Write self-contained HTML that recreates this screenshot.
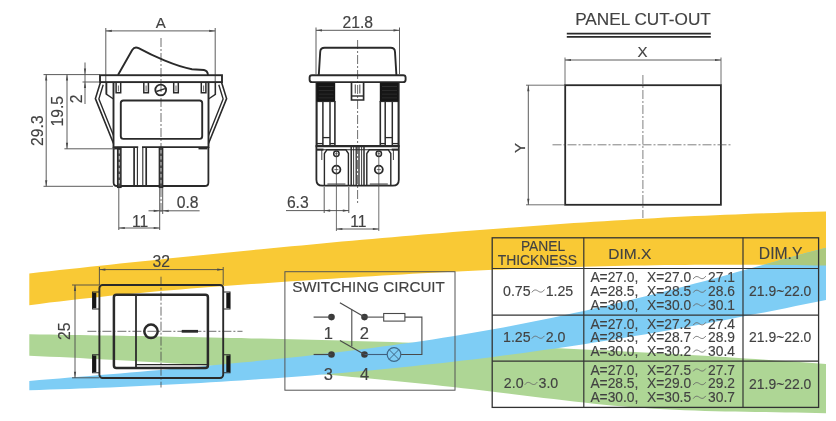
<!DOCTYPE html>
<html><head><meta charset="utf-8"><title>Rocker switch dimensions</title>
<style>
html,body{margin:0;padding:0;background:#fff;}
body{width:836px;height:421px;overflow:hidden;font-family:"Liberation Sans",sans-serif;}
svg{display:block;}
svg text{font-family:"Liberation Sans",sans-serif;}
</style></head><body>
<svg width="836" height="421" viewBox="0 0 836 421">
<defs><filter id="soft" x="0" y="0" width="100%" height="100%" filterUnits="userSpaceOnUse"><feGaussianBlur stdDeviation="0.45"/></filter></defs>
<g filter="url(#soft)">
<rect x="-5" y="-5" width="846" height="431" fill="#fff"/>
<path d="M29.3,273.4 L39.4,272.3 L49.5,271.2 L59.6,270.1 L69.6,269.0 L79.7,267.9 L89.8,266.8 L99.9,265.7 L110.0,264.7 L120.1,263.6 L130.1,262.5 L140.2,261.5 L150.3,260.4 L160.4,259.4 L170.5,258.3 L180.6,257.3 L190.7,256.3 L200.7,255.3 L210.8,254.2 L220.9,253.2 L231.0,252.2 L241.1,251.2 L251.2,250.2 L261.3,249.2 L271.3,248.3 L281.4,247.3 L291.5,246.3 L301.6,245.4 L311.7,244.4 L321.8,243.5 L331.8,242.6 L341.9,241.6 L352.0,240.7 L362.1,239.8 L372.2,238.9 L382.3,238.0 L392.4,237.2 L402.4,236.3 L412.5,235.4 L422.6,234.6 L432.7,233.8 L442.8,232.9 L452.9,232.1 L462.9,231.3 L473.0,230.5 L483.1,229.7 L493.2,228.9 L503.3,228.2 L513.4,227.4 L523.5,226.7 L533.5,225.9 L543.6,225.2 L553.7,224.5 L563.8,223.8 L573.9,223.1 L584.0,222.4 L594.0,221.8 L604.1,221.2 L614.2,220.5 L624.3,219.9 L634.4,219.3 L644.5,218.7 L654.6,218.2 L664.6,217.6 L674.7,217.1 L684.8,216.6 L694.9,216.1 L705.0,215.7 L715.1,215.2 L725.2,214.8 L735.2,214.4 L745.3,214.0 L755.4,213.6 L765.5,213.3 L775.6,212.9 L785.7,212.6 L795.7,212.3 L805.8,212.1 L815.9,211.8 L826.0,211.6 L826.0,265.6 L815.9,265.4 L805.8,265.2 L795.7,265.1 L785.7,265.0 L775.6,264.9 L765.5,264.8 L755.4,264.7 L745.3,264.7 L735.2,264.7 L725.2,264.7 L715.1,264.7 L705.0,264.7 L694.9,264.8 L684.8,264.9 L674.7,265.0 L664.6,265.1 L654.6,265.2 L644.5,265.4 L634.4,265.5 L624.3,265.7 L614.2,265.9 L604.1,266.2 L594.0,266.4 L584.0,266.7 L573.9,267.0 L563.8,267.3 L553.7,267.6 L543.6,267.9 L533.5,268.3 L523.5,268.6 L513.4,269.0 L503.3,269.4 L493.2,269.8 L483.1,270.3 L473.0,270.7 L462.9,271.2 L452.9,271.7 L442.8,272.2 L432.7,272.7 L422.6,273.3 L412.5,273.8 L402.4,274.4 L392.4,275.0 L382.3,275.6 L372.2,276.2 L362.1,276.8 L352.0,277.4 L341.9,278.0 L331.8,278.7 L321.8,279.3 L311.7,280.0 L301.6,280.7 L291.5,281.3 L281.4,282.0 L271.3,282.7 L261.3,283.4 L251.2,284.1 L241.1,284.8 L231.0,285.6 L220.9,286.3 L210.8,287.1 L200.7,287.8 L190.7,288.6 L180.6,289.4 L170.5,290.3 L160.4,291.1 L150.3,292.0 L140.2,292.9 L130.1,293.9 L120.1,294.8 L110.0,295.8 L99.9,296.9 L89.8,298.0 L79.7,299.1 L69.6,300.2 L59.6,301.4 L49.5,302.6 L39.4,303.9 L29.3,305.2 Z" fill="#f9c935"/>
<path d="M29.3,334.3 L39.4,334.5 L49.5,334.6 L59.6,334.8 L69.6,334.9 L79.7,335.1 L89.8,335.3 L99.9,335.4 L110.0,335.6 L120.1,335.8 L130.1,336.0 L140.2,336.1 L150.3,336.3 L160.4,336.5 L170.5,336.7 L180.6,336.9 L190.7,337.1 L200.7,337.3 L210.8,337.5 L220.9,337.7 L231.0,337.9 L241.1,338.1 L251.2,338.4 L261.3,338.6 L271.3,338.8 L281.4,339.1 L291.5,339.3 L301.6,339.5 L311.7,339.8 L321.8,340.1 L331.8,340.3 L341.9,340.6 L352.0,340.9 L362.1,341.2 L372.2,341.4 L382.3,341.7 L392.4,342.0 L402.4,342.4 L412.5,342.7 L422.6,343.0 L432.7,343.3 L442.8,343.7 L452.9,344.0 L462.9,344.4 L473.0,344.8 L483.1,345.1 L493.2,345.5 L503.3,345.9 L513.4,346.3 L523.5,346.7 L533.5,347.1 L543.6,347.6 L553.7,348.0 L563.8,348.4 L573.9,348.9 L584.0,349.4 L594.0,349.9 L604.1,350.3 L614.2,350.8 L624.3,351.4 L634.4,351.9 L644.5,352.4 L654.6,353.0 L664.6,353.5 L674.7,354.1 L684.8,354.7 L694.9,355.2 L705.0,355.8 L715.1,356.5 L725.2,357.1 L735.2,357.7 L745.3,358.4 L755.4,359.0 L765.5,359.7 L775.6,360.4 L785.7,361.1 L795.7,361.8 L805.8,362.6 L815.9,363.3 L826.0,364.1 L826.0,413.2 L815.9,413.0 L805.8,412.7 L795.7,412.5 L785.7,412.4 L775.6,412.2 L765.5,412.1 L755.4,411.9 L745.3,411.8 L735.2,411.6 L725.2,411.4 L715.1,411.2 L705.0,410.9 L694.9,410.6 L684.8,410.2 L674.7,409.8 L664.6,409.3 L654.6,408.8 L644.5,408.1 L634.4,407.4 L624.3,406.6 L614.2,405.7 L604.1,404.7 L594.0,403.7 L584.0,402.6 L573.9,401.5 L563.8,400.3 L553.7,399.1 L543.6,397.9 L533.5,396.7 L523.5,395.4 L513.4,394.2 L503.3,392.9 L493.2,391.7 L483.1,390.5 L473.0,389.3 L462.9,388.2 L452.9,387.0 L442.8,385.9 L432.7,384.8 L422.6,383.8 L412.5,382.7 L402.4,381.7 L392.4,380.7 L382.3,379.7 L372.2,378.7 L362.1,377.8 L352.0,376.9 L341.9,376.0 L331.8,375.1 L321.8,374.2 L311.7,373.3 L301.6,372.5 L291.5,371.7 L281.4,370.9 L271.3,370.1 L261.3,369.4 L251.2,368.6 L241.1,367.9 L231.0,367.2 L220.9,366.5 L210.8,365.8 L200.7,365.1 L190.7,364.5 L180.6,363.8 L170.5,363.2 L160.4,362.6 L150.3,362.0 L140.2,361.4 L130.1,360.8 L120.1,360.3 L110.0,359.7 L99.9,359.2 L89.8,358.7 L79.7,358.1 L69.6,357.6 L59.6,357.1 L49.5,356.7 L39.4,356.2 L29.3,355.7 Z" fill="#aed695"/>
<path d="M29.3,381.0 L39.4,380.1 L49.5,379.3 L59.6,378.4 L69.6,377.6 L79.7,376.7 L89.8,375.9 L99.9,375.1 L110.0,374.2 L120.1,373.4 L130.1,372.5 L140.2,371.7 L150.3,370.8 L160.4,370.0 L170.5,369.1 L180.6,368.2 L190.7,367.3 L200.7,366.4 L210.8,365.5 L220.9,364.6 L231.0,363.6 L241.1,362.6 L251.2,361.7 L261.3,360.6 L271.3,359.6 L281.4,358.6 L291.5,357.5 L301.6,356.4 L311.7,355.3 L321.8,354.1 L331.8,353.0 L341.9,351.7 L352.0,350.5 L362.1,349.2 L372.2,347.9 L382.3,346.6 L392.4,345.2 L402.4,343.8 L412.5,342.4 L422.6,340.9 L432.7,339.4 L442.8,337.8 L452.9,336.2 L462.9,334.5 L473.0,332.8 L483.1,331.1 L493.2,329.3 L503.3,327.4 L513.4,325.5 L523.5,323.6 L533.5,321.6 L543.6,319.5 L553.7,317.4 L563.8,315.3 L573.9,313.1 L584.0,310.9 L594.0,308.6 L604.1,306.3 L614.2,304.0 L624.3,301.6 L634.4,299.1 L644.5,296.6 L654.6,294.1 L664.6,291.6 L674.7,289.0 L684.8,286.3 L694.9,283.6 L705.0,280.9 L715.1,278.2 L725.2,275.4 L735.2,272.6 L745.3,269.8 L755.4,267.0 L765.5,264.2 L775.6,261.4 L785.7,258.6 L795.7,255.9 L805.8,253.1 L815.9,250.4 L826.0,247.8 L826.0,300.0 L815.9,302.0 L805.8,304.1 L795.7,306.1 L785.7,308.2 L775.6,310.2 L765.5,312.2 L755.4,314.1 L745.3,316.1 L735.2,318.0 L725.2,319.9 L715.1,321.8 L705.0,323.7 L694.9,325.6 L684.8,327.4 L674.7,329.2 L664.6,331.0 L654.6,332.7 L644.5,334.4 L634.4,336.1 L624.3,337.8 L614.2,339.4 L604.1,341.1 L594.0,342.6 L584.0,344.2 L573.9,345.7 L563.8,347.2 L553.7,348.7 L543.6,350.1 L533.5,351.5 L523.5,352.9 L513.4,354.3 L503.3,355.6 L493.2,356.9 L483.1,358.2 L473.0,359.4 L462.9,360.6 L452.9,361.8 L442.8,362.9 L432.7,364.0 L422.6,365.1 L412.5,366.2 L402.4,367.2 L392.4,368.2 L382.3,369.2 L372.2,370.2 L362.1,371.1 L352.0,372.0 L341.9,372.9 L331.8,373.8 L321.8,374.6 L311.7,375.4 L301.6,376.2 L291.5,377.0 L281.4,377.7 L271.3,378.4 L261.3,379.1 L251.2,379.8 L241.1,380.5 L231.0,381.1 L220.9,381.7 L210.8,382.3 L200.7,382.9 L190.7,383.5 L180.6,384.0 L170.5,384.5 L160.4,385.1 L150.3,385.5 L140.2,386.0 L130.1,386.5 L120.1,386.9 L110.0,387.4 L99.9,387.8 L89.8,388.2 L79.7,388.6 L69.6,388.9 L59.6,389.3 L49.5,389.6 L39.4,390.0 L29.3,390.3 Z" fill="#7ecdf5"/>
<path d="M763.5,264.8 L765.5,264.2 L775.6,261.4 L785.7,258.6 L795.7,255.9 L805.8,253.1 L815.9,250.4 L826.0,247.8 L826.0,265.6 L815.9,265.4 L805.8,265.2 L795.7,265.1 L785.7,265.0 L775.6,264.9 L765.5,264.8 Z" fill="#abc87e"/>
<line x1="161" y1="38" x2="161" y2="213" stroke="#4a4a4a" stroke-width="0.8" stroke-dasharray="9 2 2 2"/>
<line x1="105.8" y1="30.9" x2="215.2" y2="30.9" stroke="#4a4a4a" stroke-width="0.9" />
<path d="M105.80,30.90 L111.80,29.80 L111.80,32.00 Z" fill="#4a4a4a" stroke="none"/>
<path d="M215.20,30.90 L209.20,32.00 L209.20,29.80 Z" fill="#4a4a4a" stroke="none"/>
<line x1="105.8" y1="28" x2="105.8" y2="94.5" stroke="#4a4a4a" stroke-width="0.9" />
<line x1="215.2" y1="28" x2="215.2" y2="94.5" stroke="#4a4a4a" stroke-width="0.9" />
<path d="M106.6,82.5 L106.6,94.4 L113.5,99" stroke="#2b2b2b" stroke-width="1.4" fill="none" />
<path d="M215.4,82.5 L215.4,94.4 L208.5,99" stroke="#2b2b2b" stroke-width="1.4" fill="none" />
<text x="160.8" y="28.3" font-size="15" text-anchor="middle" fill="#424242" stroke="#424242" stroke-width="0.16">A</text>
<path d="M118,75 L132.2,50 Q134.6,46.2 138.6,48.2 C152,55.5 176,66.5 192,69.2 L204,70 Q207.5,70.6 208,75" stroke="#2b2b2b" stroke-width="1.9" fill="none" />
<rect x="100" y="75.2" width="122" height="6.9" rx="0" stroke="#2b2b2b" stroke-width="1.9" fill="none" />
<path d="M113.5,82.2 L113.5,147.1 L208.5,147.1 L208.5,82.2" stroke="#2b2b2b" stroke-width="1.9" fill="none" />
<rect x="120.8" y="100.5" width="81.4" height="38.4" rx="2.6" stroke="#2b2b2b" stroke-width="1.9" fill="none" />
<path d="M116.10000000000001,82.2 L116.10000000000001,92.7 L120.7,92.7 L120.7,82.2" stroke="#2b2b2b" stroke-width="1.5" fill="none" />
<line x1="118.4" y1="85.5" x2="118.4" y2="91.4" stroke="#555" stroke-width="0.9" />
<path d="M143.8,82.2 L143.8,92.7 L148.4,92.7 L148.4,82.2" stroke="#2b2b2b" stroke-width="1.5" fill="none" />
<line x1="146.1" y1="85.5" x2="146.1" y2="91.4" stroke="#555" stroke-width="0.9" />
<path d="M173.70000000000002,82.2 L173.70000000000002,92.7 L178.3,92.7 L178.3,82.2" stroke="#2b2b2b" stroke-width="1.5" fill="none" />
<line x1="176.0" y1="85.5" x2="176.0" y2="91.4" stroke="#555" stroke-width="0.9" />
<path d="M201.3,82.2 L201.3,92.7 L205.9,92.7 L205.9,82.2" stroke="#2b2b2b" stroke-width="1.5" fill="none" />
<line x1="203.6" y1="85.5" x2="203.6" y2="91.4" stroke="#555" stroke-width="0.9" />
<circle cx="160.7" cy="90" r="5.4" stroke="#2b2b2b" stroke-width="1.8" fill="none"/>
<line x1="156.3" y1="91.5" x2="165.0" y2="88.6" stroke="#2b2b2b" stroke-width="1.5" />
<path d="M100.4,82.4 L95.4,98.6 L113.5,143.5" stroke="#2b2b2b" stroke-width="1.6" fill="none" />
<path d="M103.2,84.8 L98.9,98.9 L113.5,135.5" stroke="#2b2b2b" stroke-width="1.4" fill="none" />
<path d="M221.6,82.4 L226.6,98.6 L208.5,143.5" stroke="#2b2b2b" stroke-width="1.6" fill="none" />
<path d="M218.8,84.8 L223.1,98.9 L208.5,135.5" stroke="#2b2b2b" stroke-width="1.4" fill="none" />
<path d="M113.6,147.1 L113.6,182.4 Q113.6,186 117.2,186 L204.8,186 Q208.4,186 208.4,182.4 L208.4,147.1" stroke="#2b2b2b" stroke-width="1.8" fill="none" />
<line x1="134.1" y1="147.1" x2="134.1" y2="186" stroke="#2b2b2b" stroke-width="1.7" />
<line x1="137.4" y1="147.1" x2="137.4" y2="186" stroke="#2b2b2b" stroke-width="1.1" />
<line x1="142.8" y1="147.1" x2="142.8" y2="186" stroke="#2b2b2b" stroke-width="1.1" />
<line x1="146.2" y1="147.1" x2="146.2" y2="186" stroke="#2b2b2b" stroke-width="1.7" />
<line x1="138.2" y1="147.1" x2="142.0" y2="147.1" stroke="#fff" stroke-width="2.6" />
<rect x="117.6" y="147.5" width="3.4" height="39.9" rx="0" stroke="#2b2b2b" stroke-width="1.3" fill="#4a4a4a" />
<line x1="119.3" y1="150" x2="119.3" y2="186" stroke="#c8c8c8" stroke-width="1.0" stroke-dasharray="3.5 2.5"/>
<line x1="117.6" y1="187.2" x2="121.0" y2="187.2" stroke="#2b2b2b" stroke-width="1" />
<rect x="159.3" y="147.5" width="3.4" height="39.9" rx="0" stroke="#2b2b2b" stroke-width="1.3" fill="#4a4a4a" />
<line x1="161.0" y1="150" x2="161.0" y2="186" stroke="#c8c8c8" stroke-width="1.0" stroke-dasharray="3.5 2.5"/>
<line x1="159.3" y1="187.2" x2="162.70000000000002" y2="187.2" stroke="#2b2b2b" stroke-width="1" />
<line x1="114" y1="148.2" x2="121" y2="148.2" stroke="#2b2b2b" stroke-width="2.4" />
<line x1="198.5" y1="148.2" x2="207.5" y2="148.2" stroke="#2b2b2b" stroke-width="2.4" />
<line x1="43.5" y1="74.6" x2="100" y2="74.6" stroke="#4a4a4a" stroke-width="0.9" />
<line x1="82.5" y1="82" x2="100" y2="82" stroke="#4a4a4a" stroke-width="0.9" />
<line x1="64.4" y1="148.8" x2="115" y2="148.8" stroke="#4a4a4a" stroke-width="0.9" />
<line x1="43.5" y1="186.3" x2="113" y2="186.3" stroke="#4a4a4a" stroke-width="0.9" />
<line x1="46.2" y1="74.6" x2="46.2" y2="186.3" stroke="#4a4a4a" stroke-width="0.9" />
<path d="M46.20,74.60 L47.30,80.60 L45.10,80.60 Z" fill="#4a4a4a" stroke="none"/>
<path d="M46.20,186.30 L45.10,180.30 L47.30,180.30 Z" fill="#4a4a4a" stroke="none"/>
<line x1="67" y1="74.6" x2="67" y2="148.8" stroke="#4a4a4a" stroke-width="0.9" />
<path d="M67.00,74.60 L68.10,80.60 L65.90,80.60 Z" fill="#4a4a4a" stroke="none"/>
<path d="M67.00,148.80 L65.90,142.80 L68.10,142.80 Z" fill="#4a4a4a" stroke="none"/>
<line x1="85" y1="62.5" x2="85" y2="104" stroke="#4a4a4a" stroke-width="0.9" />
<path d="M85.00,74.60 L83.90,68.60 L86.10,68.60 Z" fill="#4a4a4a" stroke="none"/>
<path d="M85.00,82.00 L86.10,88.00 L83.90,88.00 Z" fill="#4a4a4a" stroke="none"/>
<text x="43.4" y="130.6" font-size="15.7" text-anchor="middle" fill="#424242" transform="rotate(-90 43.4 130.6)" stroke="#424242" stroke-width="0.16">29.3</text>
<text x="63.3" y="111.2" font-size="15.7" text-anchor="middle" fill="#424242" transform="rotate(-90 63.3 111.2)" stroke="#424242" stroke-width="0.16">19.5</text>
<text x="82.3" y="98.8" font-size="15.7" text-anchor="middle" fill="#424242" transform="rotate(-90 82.3 98.8)" stroke="#424242" stroke-width="0.16">2</text>
<line x1="118.8" y1="188" x2="118.8" y2="230" stroke="#4a4a4a" stroke-width="0.9" />
<line x1="159.7" y1="188" x2="159.7" y2="230" stroke="#4a4a4a" stroke-width="0.9" />
<line x1="162.7" y1="188" x2="162.7" y2="214" stroke="#4a4a4a" stroke-width="0.9" />
<line x1="118.8" y1="228" x2="159.7" y2="228" stroke="#4a4a4a" stroke-width="0.9" />
<path d="M118.80,228.00 L124.80,226.90 L124.80,229.10 Z" fill="#4a4a4a" stroke="none"/>
<path d="M159.70,228.00 L153.70,229.10 L153.70,226.90 Z" fill="#4a4a4a" stroke="none"/>
<line x1="148.5" y1="210.8" x2="199.6" y2="210.8" stroke="#4a4a4a" stroke-width="0.9" />
<path d="M159.70,210.80 L153.70,211.90 L153.70,209.70 Z" fill="#4a4a4a" stroke="none"/>
<path d="M162.70,210.80 L168.70,209.70 L168.70,211.90 Z" fill="#4a4a4a" stroke="none"/>
<text x="187.7" y="208.2" font-size="15.7" text-anchor="middle" fill="#424242" stroke="#424242" stroke-width="0.16">0.8</text>
<text x="140.2" y="227" font-size="15.7" text-anchor="middle" fill="#424242" stroke="#424242" stroke-width="0.16">11</text>
<line x1="357.6" y1="40" x2="357.6" y2="203" stroke="#4a4a4a" stroke-width="0.8" stroke-dasharray="9 2 2 2"/>
<line x1="316" y1="30.3" x2="399.5" y2="30.3" stroke="#4a4a4a" stroke-width="0.9" />
<path d="M316.00,30.30 L322.00,29.20 L322.00,31.40 Z" fill="#4a4a4a" stroke="none"/>
<path d="M399.50,30.30 L393.50,31.40 L393.50,29.20 Z" fill="#4a4a4a" stroke="none"/>
<line x1="316" y1="27.5" x2="316" y2="74" stroke="#4a4a4a" stroke-width="0.9" />
<line x1="399.5" y1="27.5" x2="399.5" y2="74" stroke="#4a4a4a" stroke-width="0.9" />
<text x="357.8" y="28" font-size="15.7" text-anchor="middle" fill="#424242" stroke="#424242" stroke-width="0.16">21.8</text>
<path d="M318.8,75 L320.2,52 Q320.4,47.8 324.6,47.8 L390.6,47.8 Q394.8,47.8 395,52 L396.4,75" stroke="#2b2b2b" stroke-width="1.9" fill="none" />
<rect x="309.6" y="75.2" width="96" height="6.9" rx="2.4" stroke="#2b2b2b" stroke-width="1.9" fill="none" />
<line x1="316.6" y1="82.2" x2="316.6" y2="146" stroke="#2b2b2b" stroke-width="2.1" />
<line x1="398.6" y1="82.2" x2="398.6" y2="146" stroke="#2b2b2b" stroke-width="2.1" />
<rect x="316.6" y="82.4" width="18.4" height="19.5" rx="0" stroke="#2b2b2b" stroke-width="0.4" fill="#141414" />
<line x1="318.6" y1="86.5" x2="333.6" y2="86.5" stroke="#4a4a4a" stroke-width="0.5" />
<line x1="318.6" y1="90.3" x2="333.6" y2="90.3" stroke="#4a4a4a" stroke-width="0.5" />
<line x1="318.6" y1="94.1" x2="333.6" y2="94.1" stroke="#4a4a4a" stroke-width="0.5" />
<line x1="318.6" y1="97.9" x2="333.6" y2="97.9" stroke="#4a4a4a" stroke-width="0.5" />
<line x1="322.90000000000003" y1="101" x2="322.90000000000003" y2="145" stroke="#2b2b2b" stroke-width="1.5" />
<line x1="330.0" y1="101" x2="330.0" y2="145" stroke="#2b2b2b" stroke-width="1.5" />
<line x1="334.90000000000003" y1="101" x2="334.90000000000003" y2="145" stroke="#2b2b2b" stroke-width="1.6" />
<line x1="316.6" y1="143.6" x2="322.90000000000003" y2="143.6" stroke="#2b2b2b" stroke-width="1.3" />
<line x1="330.0" y1="143.6" x2="334.90000000000003" y2="143.6" stroke="#2b2b2b" stroke-width="1.3" />
<line x1="322.90000000000003" y1="137.6" x2="330.0" y2="137.6" stroke="#2b2b2b" stroke-width="1.3" />
<rect x="380.0" y="82.4" width="18.4" height="19.5" rx="0" stroke="#2b2b2b" stroke-width="0.4" fill="#141414" />
<line x1="382.0" y1="86.5" x2="397.0" y2="86.5" stroke="#4a4a4a" stroke-width="0.5" />
<line x1="382.0" y1="90.3" x2="397.0" y2="90.3" stroke="#4a4a4a" stroke-width="0.5" />
<line x1="382.0" y1="94.1" x2="397.0" y2="94.1" stroke="#4a4a4a" stroke-width="0.5" />
<line x1="382.0" y1="97.9" x2="397.0" y2="97.9" stroke="#4a4a4a" stroke-width="0.5" />
<line x1="392.3" y1="101" x2="392.3" y2="145" stroke="#2b2b2b" stroke-width="1.5" />
<line x1="385.20000000000005" y1="101" x2="385.20000000000005" y2="145" stroke="#2b2b2b" stroke-width="1.5" />
<line x1="380.3" y1="101" x2="380.3" y2="145" stroke="#2b2b2b" stroke-width="1.6" />
<line x1="398.6" y1="143.6" x2="392.3" y2="143.6" stroke="#2b2b2b" stroke-width="1.3" />
<line x1="385.20000000000005" y1="143.6" x2="380.3" y2="143.6" stroke="#2b2b2b" stroke-width="1.3" />
<line x1="392.3" y1="137.6" x2="385.20000000000005" y2="137.6" stroke="#2b2b2b" stroke-width="1.3" />
<path d="M351.5,82.2 L351.5,100 L363.6,100 L363.6,82.2" stroke="#2b2b2b" stroke-width="1.7" fill="none" />
<line x1="351.5" y1="96" x2="363.6" y2="96" stroke="#2b2b2b" stroke-width="1.4" />
<line x1="355.3" y1="84.5" x2="355.3" y2="93.5" stroke="#666" stroke-width="1.2" />
<line x1="359.8" y1="84.5" x2="359.8" y2="93.5" stroke="#666" stroke-width="1.2" />
<line x1="315.6" y1="146.1" x2="399.6" y2="146.1" stroke="#2b2b2b" stroke-width="2.2" />
<line x1="317" y1="149.8" x2="398.2" y2="149.8" stroke="#2b2b2b" stroke-width="1.1" />
<line x1="317" y1="149.6" x2="323.5" y2="149.6" stroke="#2b2b2b" stroke-width="2.0" />
<line x1="391.7" y1="149.6" x2="398.2" y2="149.6" stroke="#2b2b2b" stroke-width="2.0" />
<path d="M316.4,146 L316.4,179.7 Q316.4,185.7 322.4,185.7 L392.8,185.7 Q398.8,185.7 398.8,179.7 L398.8,146" stroke="#2b2b2b" stroke-width="1.8" fill="none" />
<path d="M324.4,185.7 L324.4,153.5 L326.9,149.8 L345.9,149.8 L348.4,153.5 L348.4,185.7" stroke="#2b2b2b" stroke-width="1.4" fill="none" />
<circle cx="336.4" cy="153.7" r="2.7" stroke="#2b2b2b" stroke-width="1.5" fill="none"/>
<circle cx="336.4" cy="169.6" r="4.0" stroke="#2b2b2b" stroke-width="1.8" fill="none"/>
<line x1="335.09999999999997" y1="153.7" x2="337.7" y2="153.7" stroke="#2b2b2b" stroke-width="0.7" />
<line x1="334.4" y1="169.6" x2="338.4" y2="169.6" stroke="#2b2b2b" stroke-width="0.7" />
<line x1="327.4" y1="184.2" x2="345.4" y2="184.2" stroke="#777" stroke-width="1.8" />
<line x1="321.79999999999995" y1="150" x2="321.79999999999995" y2="160" stroke="#2b2b2b" stroke-width="0.9" />
<path d="M366.8,185.7 L366.8,153.5 L369.3,149.8 L388.3,149.8 L390.8,153.5 L390.8,185.7" stroke="#2b2b2b" stroke-width="1.4" fill="none" />
<circle cx="378.8" cy="153.7" r="2.7" stroke="#2b2b2b" stroke-width="1.5" fill="none"/>
<circle cx="378.8" cy="169.6" r="4.0" stroke="#2b2b2b" stroke-width="1.8" fill="none"/>
<line x1="377.5" y1="153.7" x2="380.1" y2="153.7" stroke="#2b2b2b" stroke-width="0.7" />
<line x1="376.8" y1="169.6" x2="380.8" y2="169.6" stroke="#2b2b2b" stroke-width="0.7" />
<line x1="369.8" y1="184.2" x2="387.8" y2="184.2" stroke="#777" stroke-width="1.8" />
<line x1="393.40000000000003" y1="150" x2="393.40000000000003" y2="160" stroke="#2b2b2b" stroke-width="0.9" />
<line x1="351.2" y1="147" x2="351.2" y2="185.7" stroke="#2b2b2b" stroke-width="1.5" />
<line x1="353.6" y1="147" x2="353.6" y2="185.7" stroke="#2b2b2b" stroke-width="0.9" />
<line x1="356.2" y1="147" x2="356.2" y2="185.7" stroke="#2b2b2b" stroke-width="1.3" />
<line x1="359.0" y1="147" x2="359.0" y2="185.7" stroke="#2b2b2b" stroke-width="1.3" />
<line x1="361.6" y1="147" x2="361.6" y2="185.7" stroke="#2b2b2b" stroke-width="0.9" />
<line x1="364" y1="147" x2="364" y2="185.7" stroke="#2b2b2b" stroke-width="1.5" />
<line x1="324.2" y1="187" x2="324.2" y2="213" stroke="#4a4a4a" stroke-width="0.9" />
<line x1="348.8" y1="187" x2="348.8" y2="213" stroke="#4a4a4a" stroke-width="0.9" />
<line x1="286" y1="210.6" x2="348.8" y2="210.6" stroke="#4a4a4a" stroke-width="0.9" />
<path d="M324.20,210.60 L330.20,209.50 L330.20,211.70 Z" fill="#4a4a4a" stroke="none"/>
<path d="M348.80,210.60 L342.80,211.70 L342.80,209.50 Z" fill="#4a4a4a" stroke="none"/>
<text x="297.8" y="207.7" font-size="15.7" text-anchor="middle" fill="#424242" stroke="#424242" stroke-width="0.16">6.3</text>
<line x1="336.4" y1="150" x2="336.4" y2="231" stroke="#4a4a4a" stroke-width="0.8" />
<line x1="378.8" y1="150" x2="378.8" y2="231" stroke="#4a4a4a" stroke-width="0.8" />
<line x1="336.4" y1="229" x2="378.8" y2="229" stroke="#4a4a4a" stroke-width="0.9" />
<path d="M336.40,229.00 L342.40,227.90 L342.40,230.10 Z" fill="#4a4a4a" stroke="none"/>
<path d="M378.80,229.00 L372.80,230.10 L372.80,227.90 Z" fill="#4a4a4a" stroke="none"/>
<text x="358.3" y="226.6" font-size="15.7" text-anchor="middle" fill="#424242" stroke="#424242" stroke-width="0.16">11</text>
<text x="643" y="25.0" font-size="17.2" text-anchor="middle" fill="#424242" stroke="#424242" stroke-width="0.16">PANEL CUT-OUT</text>
<line x1="566.8" y1="33.6" x2="710.8" y2="33.6" stroke="#2b2b2b" stroke-width="1.6" />
<line x1="566.8" y1="36.9" x2="710.8" y2="36.9" stroke="#2b2b2b" stroke-width="1.6" />
<text x="642.6" y="57" font-size="15" text-anchor="middle" fill="#424242" stroke="#424242" stroke-width="0.16">X</text>
<line x1="565" y1="60" x2="721" y2="60" stroke="#4a4a4a" stroke-width="0.9" />
<path d="M565.00,60.00 L571.00,58.90 L571.00,61.10 Z" fill="#4a4a4a" stroke="none"/>
<path d="M721.00,60.00 L715.00,61.10 L715.00,58.90 Z" fill="#4a4a4a" stroke="none"/>
<line x1="565" y1="57.5" x2="565" y2="85" stroke="#4a4a4a" stroke-width="0.8" />
<line x1="721" y1="57.5" x2="721" y2="85" stroke="#4a4a4a" stroke-width="0.8" />
<rect x="565.2" y="85.2" width="155.7" height="119.6" rx="0" stroke="#2b2b2b" stroke-width="1.8" fill="none" />
<line x1="526" y1="85.2" x2="565" y2="85.2" stroke="#4a4a4a" stroke-width="0.8" />
<line x1="526" y1="204.8" x2="565" y2="204.8" stroke="#4a4a4a" stroke-width="0.8" />
<line x1="528.3" y1="85.2" x2="528.3" y2="204.8" stroke="#4a4a4a" stroke-width="0.9" />
<path d="M528.30,85.20 L529.40,91.20 L527.20,91.20 Z" fill="#4a4a4a" stroke="none"/>
<path d="M528.30,204.80 L527.20,198.80 L529.40,198.80 Z" fill="#4a4a4a" stroke="none"/>
<text x="525.3" y="148" font-size="15" text-anchor="middle" fill="#424242" transform="rotate(-90 525.3 148)" stroke="#424242" stroke-width="0.16">Y</text>
<line x1="552.5" y1="144.8" x2="730.5" y2="144.8" stroke="#4a4a4a" stroke-width="0.7" stroke-dasharray="9 2 2 2"/>
<line x1="642.9" y1="75" x2="642.9" y2="218" stroke="#4a4a4a" stroke-width="0.7" stroke-dasharray="9 2 2 2"/>
<line x1="87.4" y1="331.3" x2="242.5" y2="331.3" stroke="#4a4a4a" stroke-width="0.8" stroke-dasharray="9 2 2 2"/>
<line x1="161" y1="276.7" x2="161" y2="387.5" stroke="#4a4a4a" stroke-width="0.8" stroke-dasharray="9 2 2 2"/>
<line x1="99.4" y1="269.6" x2="223.2" y2="269.6" stroke="#4a4a4a" stroke-width="0.9" />
<path d="M99.40,269.60 L105.40,268.50 L105.40,270.70 Z" fill="#4a4a4a" stroke="none"/>
<path d="M223.20,269.60 L217.20,270.70 L217.20,268.50 Z" fill="#4a4a4a" stroke="none"/>
<line x1="99.4" y1="267" x2="99.4" y2="285" stroke="#4a4a4a" stroke-width="0.9" />
<line x1="223.2" y1="267" x2="223.2" y2="285" stroke="#4a4a4a" stroke-width="0.9" />
<text x="161.2" y="267.3" font-size="15.7" text-anchor="middle" fill="#424242" stroke="#424242" stroke-width="0.16">32</text>
<line x1="72" y1="285" x2="99.4" y2="285" stroke="#4a4a4a" stroke-width="0.9" />
<line x1="72" y1="377.8" x2="99.4" y2="377.8" stroke="#4a4a4a" stroke-width="0.9" />
<line x1="75" y1="285" x2="75" y2="377.8" stroke="#4a4a4a" stroke-width="0.9" />
<path d="M75.00,285.00 L76.10,291.00 L73.90,291.00 Z" fill="#4a4a4a" stroke="none"/>
<path d="M75.00,377.80 L73.90,371.80 L76.10,371.80 Z" fill="#4a4a4a" stroke="none"/>
<text x="69.9" y="331.3" font-size="15.7" text-anchor="middle" fill="#424242" transform="rotate(-90 69.9 331.3)" stroke="#424242" stroke-width="0.16">25</text>
<rect x="99.4" y="285" width="123.8" height="93" rx="3.2" stroke="#2b2b2b" stroke-width="1.9" fill="none" />
<rect x="113.9" y="294.7" width="94" height="73.2" rx="2.5" stroke="#2b2b2b" stroke-width="2.5" fill="none" />
<line x1="136" y1="294.7" x2="136" y2="368" stroke="#2b2b2b" stroke-width="1.8" />
<line x1="136" y1="364.7" x2="207.9" y2="364.7" stroke="#2b2b2b" stroke-width="1.3" />
<circle cx="151" cy="331.3" r="6.7" stroke="#2b2b2b" stroke-width="2.5" fill="none"/>
<line x1="181.7" y1="331.3" x2="198" y2="331.3" stroke="#2b2b2b" stroke-width="2.8" />
<path d="M99.4,292 L92.60000000000001,292 L92.60000000000001,309 L99.4,309" stroke="#2b2b2b" stroke-width="1.1" fill="none" />
<line x1="94.4" y1="292.8" x2="94.4" y2="308.2" stroke="#161616" stroke-width="3.8" />
<path d="M99.4,354.7 L92.60000000000001,354.7 L92.60000000000001,372.8 L99.4,372.8" stroke="#2b2b2b" stroke-width="1.1" fill="none" />
<line x1="94.4" y1="355.5" x2="94.4" y2="372.0" stroke="#161616" stroke-width="3.8" />
<path d="M223.2,292 L230.0,292 L230.0,309 L223.2,309" stroke="#2b2b2b" stroke-width="1.1" fill="none" />
<line x1="228.2" y1="292.8" x2="228.2" y2="308.2" stroke="#161616" stroke-width="3.8" />
<path d="M223.2,354.7 L230.0,354.7 L230.0,372.8 L223.2,372.8" stroke="#2b2b2b" stroke-width="1.1" fill="none" />
<line x1="228.2" y1="355.5" x2="228.2" y2="372.0" stroke="#161616" stroke-width="3.8" />
<rect x="284.9" y="271.7" width="170.1" height="118.5" rx="0" stroke="#555" stroke-width="1.0" fill="none" />
<text x="368.5" y="292.2" font-size="15.2" text-anchor="middle" fill="#424242" stroke="#424242" stroke-width="0.16">SWITCHING CIRCUIT</text>
<circle cx="331.5" cy="317.1" r="3.3" stroke="#2b2b2b" stroke-width="0" fill="#3a3a3a"/>
<circle cx="364.5" cy="317.1" r="3.3" stroke="#2b2b2b" stroke-width="0" fill="#3a3a3a"/>
<circle cx="331.5" cy="354.5" r="3.3" stroke="#2b2b2b" stroke-width="0" fill="#3a3a3a"/>
<circle cx="364.5" cy="354.5" r="3.3" stroke="#2b2b2b" stroke-width="0" fill="#3a3a3a"/>
<line x1="313.6" y1="317.1" x2="331.5" y2="317.1" stroke="#4a4a4a" stroke-width="1.2" />
<line x1="313.6" y1="354.5" x2="331.5" y2="354.5" stroke="#4a4a4a" stroke-width="1.2" />
<line x1="339.9" y1="302.7" x2="364.5" y2="317.1" stroke="#4a4a4a" stroke-width="1.2" />
<line x1="339.9" y1="340.5" x2="364.5" y2="354.5" stroke="#4a4a4a" stroke-width="1.2" />
<line x1="351.8" y1="309.8" x2="351.8" y2="346.2" stroke="#4a4a4a" stroke-width="1.1" />
<line x1="364.5" y1="317.1" x2="383.7" y2="317.1" stroke="#4a4a4a" stroke-width="1.1" />
<rect x="383.7" y="313.5" width="21.2" height="7.6" rx="0" stroke="#4a4a4a" stroke-width="1.1" fill="none" />
<path d="M404.9,317.1 L421.9,317.1 L421.9,354.5 L400.6,354.5" stroke="#4a4a4a" stroke-width="1.1" fill="none" />
<line x1="364.5" y1="354.5" x2="387" y2="354.5" stroke="#3f5f7c" stroke-width="1.1" />
<circle cx="394" cy="354.5" r="6.8" stroke="#3f6888" stroke-width="1.2" fill="none"/>
<line x1="389.2" y1="349.7" x2="398.8" y2="359.3" stroke="#3f6888" stroke-width="1.0" />
<line x1="389.2" y1="359.3" x2="398.8" y2="349.7" stroke="#3f6888" stroke-width="1.0" />
<text x="328.3" y="338.8" font-size="16.5" text-anchor="middle" fill="#424242" stroke="#424242" stroke-width="0.16">1</text>
<text x="364.3" y="338.8" font-size="16.5" text-anchor="middle" fill="#424242" stroke="#424242" stroke-width="0.16">2</text>
<text x="328.3" y="379.8" font-size="16.5" text-anchor="middle" fill="#424242" stroke="#424242" stroke-width="0.16">3</text>
<text x="364.6" y="379.8" font-size="16.5" text-anchor="middle" fill="#424242" stroke="#424242" stroke-width="0.16">4</text>
<rect x="492.2" y="237.8" width="326.40000000000003" height="169.59999999999997" rx="0" stroke="#333" stroke-width="1.3" fill="none" />
<line x1="583.8" y1="237.8" x2="583.8" y2="407.4" stroke="#333" stroke-width="1.2" />
<line x1="743" y1="237.8" x2="743" y2="407.4" stroke="#333" stroke-width="1.2" />
<line x1="492.2" y1="268.5" x2="818.6" y2="268.5" stroke="#333" stroke-width="1.2" />
<line x1="492.2" y1="315.1" x2="818.6" y2="315.1" stroke="#333" stroke-width="1.2" />
<line x1="492.2" y1="361.1" x2="818.6" y2="361.1" stroke="#333" stroke-width="1.2" />
<text x="543" y="251.4" font-size="13.8" text-anchor="middle" fill="#424242" stroke="#424242" stroke-width="0.14">PANEL</text>
<text x="537.4" y="264.7" font-size="13.9" text-anchor="middle" fill="#424242" stroke="#424242" stroke-width="0.14">THICKNESS</text>
<text x="629.8" y="258.6" font-size="15.5" text-anchor="middle" fill="#424242" stroke="#424242" stroke-width="0.14">DIM.X</text>
<text x="780.6" y="258.7" font-size="15.7" text-anchor="middle" fill="#424242" stroke="#424242" stroke-width="0.14">DIM.Y</text>
<text x="503.0" y="296.0" font-size="14.2" text-anchor="start" fill="#424242" stroke="#424242" stroke-width="0.14">0.75</text>
<path d="M531.8332,292.40000000000003 C534.6052000000001,288.3 537.1252000000001,290.5 538.1332,291.1 C539.1412,291.70000000000005 541.6612,293.70000000000005 544.4332,289.6" stroke="#666" stroke-width="0.85" fill="none" />
<text x="545.6332" y="296.0" font-size="14.2" text-anchor="start" fill="#424242" stroke="#424242" stroke-width="0.14">1.25</text>
<text x="590.4" y="282.35" font-size="13.8" text-anchor="start" fill="#424242" stroke="#424242" stroke-width="0.14">A=27.0,</text>
<text x="647" y="282.35" font-size="13.8" text-anchor="start" fill="#424242" stroke="#424242" stroke-width="0.14">X=27.0</text>
<path d="M693.2,278.95000000000005 C695.9720000000001,274.85 698.4920000000001,277.05 699.5,277.65000000000003 C700.508,278.25000000000006 703.028,280.25000000000006 705.8000000000001,276.15000000000003" stroke="#666" stroke-width="0.85" fill="none" />
<text x="708.1" y="282.35" font-size="13.8" text-anchor="start" fill="#424242" stroke="#424242" stroke-width="0.14">27.1</text>
<text x="590.4" y="296.0" font-size="13.8" text-anchor="start" fill="#424242" stroke="#424242" stroke-width="0.14">A=28.5,</text>
<text x="647" y="296.0" font-size="13.8" text-anchor="start" fill="#424242" stroke="#424242" stroke-width="0.14">X=28.5</text>
<path d="M693.2,292.6 C695.9720000000001,288.5 698.4920000000001,290.7 699.5,291.3 C700.508,291.90000000000003 703.028,293.90000000000003 705.8000000000001,289.8" stroke="#666" stroke-width="0.85" fill="none" />
<text x="708.1" y="296.0" font-size="13.8" text-anchor="start" fill="#424242" stroke="#424242" stroke-width="0.14">28.6</text>
<text x="590.4" y="309.65" font-size="13.8" text-anchor="start" fill="#424242" stroke="#424242" stroke-width="0.14">A=30.0,</text>
<text x="647" y="309.65" font-size="13.8" text-anchor="start" fill="#424242" stroke="#424242" stroke-width="0.14">X=30.0</text>
<path d="M693.2,306.25 C695.9720000000001,302.15 698.4920000000001,304.34999999999997 699.5,304.95 C700.508,305.55 703.028,307.55 705.8000000000001,303.45" stroke="#666" stroke-width="0.85" fill="none" />
<text x="708.1" y="309.65" font-size="13.8" text-anchor="start" fill="#424242" stroke="#424242" stroke-width="0.14">30.1</text>
<text x="780.2" y="296.2" font-size="13.9" text-anchor="middle" fill="#424242" stroke="#424242" stroke-width="0.14">21.9~22.0</text>
<text x="503.0" y="342.2" font-size="14.2" text-anchor="start" fill="#424242" stroke="#424242" stroke-width="0.14">1.25</text>
<path d="M531.8332,338.6 C534.6052000000001,334.5 537.1252000000001,336.7 538.1332,337.3 C539.1412,337.90000000000003 541.6612,339.90000000000003 544.4332,335.8" stroke="#666" stroke-width="0.85" fill="none" />
<text x="545.6332" y="342.2" font-size="14.2" text-anchor="start" fill="#424242" stroke="#424242" stroke-width="0.14">2.0</text>
<text x="590.4" y="328.55" font-size="13.8" text-anchor="start" fill="#424242" stroke="#424242" stroke-width="0.14">A=27.0,</text>
<text x="647" y="328.55" font-size="13.8" text-anchor="start" fill="#424242" stroke="#424242" stroke-width="0.14">X=27.2</text>
<path d="M693.2,325.15000000000003 C695.9720000000001,321.05 698.4920000000001,323.25 699.5,323.85 C700.508,324.45000000000005 703.028,326.45000000000005 705.8000000000001,322.35" stroke="#666" stroke-width="0.85" fill="none" />
<text x="708.1" y="328.55" font-size="13.8" text-anchor="start" fill="#424242" stroke="#424242" stroke-width="0.14">27.4</text>
<text x="590.4" y="342.2" font-size="13.8" text-anchor="start" fill="#424242" stroke="#424242" stroke-width="0.14">A=28.5,</text>
<text x="647" y="342.2" font-size="13.8" text-anchor="start" fill="#424242" stroke="#424242" stroke-width="0.14">X=28.7</text>
<path d="M693.2,338.8 C695.9720000000001,334.7 698.4920000000001,336.9 699.5,337.5 C700.508,338.1 703.028,340.1 705.8000000000001,336.0" stroke="#666" stroke-width="0.85" fill="none" />
<text x="708.1" y="342.2" font-size="13.8" text-anchor="start" fill="#424242" stroke="#424242" stroke-width="0.14">28.9</text>
<text x="590.4" y="355.84999999999997" font-size="13.8" text-anchor="start" fill="#424242" stroke="#424242" stroke-width="0.14">A=30.0,</text>
<text x="647" y="355.84999999999997" font-size="13.8" text-anchor="start" fill="#424242" stroke="#424242" stroke-width="0.14">X=30.2</text>
<path d="M693.2,352.45 C695.9720000000001,348.34999999999997 698.4920000000001,350.54999999999995 699.5,351.15 C700.508,351.75 703.028,353.75 705.8000000000001,349.65" stroke="#666" stroke-width="0.85" fill="none" />
<text x="708.1" y="355.84999999999997" font-size="13.8" text-anchor="start" fill="#424242" stroke="#424242" stroke-width="0.14">30.4</text>
<text x="780.2" y="342.4" font-size="13.9" text-anchor="middle" fill="#424242" stroke="#424242" stroke-width="0.14">21.9~22.0</text>
<text x="503.8" y="388.4" font-size="14.2" text-anchor="start" fill="#424242" stroke="#424242" stroke-width="0.14">2.0</text>
<path d="M524.738,384.8 C527.5100000000001,380.7 530.0300000000001,382.9 531.038,383.5 C532.046,384.1 534.566,386.1 537.3380000000001,382.0" stroke="#666" stroke-width="0.85" fill="none" />
<text x="538.538" y="388.4" font-size="14.2" text-anchor="start" fill="#424242" stroke="#424242" stroke-width="0.14">3.0</text>
<text x="590.4" y="374.75" font-size="13.8" text-anchor="start" fill="#424242" stroke="#424242" stroke-width="0.14">A=27.0,</text>
<text x="647" y="374.75" font-size="13.8" text-anchor="start" fill="#424242" stroke="#424242" stroke-width="0.14">X=27.5</text>
<path d="M693.2,371.35 C695.9720000000001,367.25 698.4920000000001,369.45 699.5,370.05 C700.508,370.65000000000003 703.028,372.65000000000003 705.8000000000001,368.55" stroke="#666" stroke-width="0.85" fill="none" />
<text x="708.1" y="374.75" font-size="13.8" text-anchor="start" fill="#424242" stroke="#424242" stroke-width="0.14">27.7</text>
<text x="590.4" y="388.4" font-size="13.8" text-anchor="start" fill="#424242" stroke="#424242" stroke-width="0.14">A=28.5,</text>
<text x="647" y="388.4" font-size="13.8" text-anchor="start" fill="#424242" stroke="#424242" stroke-width="0.14">X=29.0</text>
<path d="M693.2,385.0 C695.9720000000001,380.9 698.4920000000001,383.09999999999997 699.5,383.7 C700.508,384.3 703.028,386.3 705.8000000000001,382.2" stroke="#666" stroke-width="0.85" fill="none" />
<text x="708.1" y="388.4" font-size="13.8" text-anchor="start" fill="#424242" stroke="#424242" stroke-width="0.14">29.2</text>
<text x="590.4" y="402.04999999999995" font-size="13.8" text-anchor="start" fill="#424242" stroke="#424242" stroke-width="0.14">A=30.0,</text>
<text x="647" y="402.04999999999995" font-size="13.8" text-anchor="start" fill="#424242" stroke="#424242" stroke-width="0.14">X=30.5</text>
<path d="M693.2,398.65 C695.9720000000001,394.54999999999995 698.4920000000001,396.74999999999994 699.5,397.34999999999997 C700.508,397.95 703.028,399.95 705.8000000000001,395.84999999999997" stroke="#666" stroke-width="0.85" fill="none" />
<text x="708.1" y="402.04999999999995" font-size="13.8" text-anchor="start" fill="#424242" stroke="#424242" stroke-width="0.14">30.7</text>
<text x="780.2" y="388.59999999999997" font-size="13.9" text-anchor="middle" fill="#424242" stroke="#424242" stroke-width="0.14">21.9~22.0</text>
</g>
</svg>
</body></html>
